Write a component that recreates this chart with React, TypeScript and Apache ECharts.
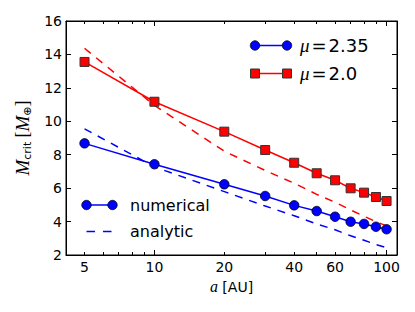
import React, { useEffect, useRef } from 'react';
import * as echarts from 'echarts';

// semi-major axis [AU]
const aValues = [5, 10, 20, 30, 40, 50, 60, 70, 80, 90, 100];
// numerical critical masses [M_earth]
const mu235Numerical = [8.68, 7.43, 6.23, 5.53, 4.97, 4.63, 4.29, 3.99, 3.86, 3.69, 3.54];
const mu20Numerical = [13.55, 11.17, 9.38, 8.28, 7.52, 6.89, 6.47, 5.99, 5.73, 5.47, 5.23];
// analytic estimates [M_earth]
const mu235Analytic = [9.55, 7.27, 5.79, 4.93, 4.35, 3.86, 3.51, 3.15, 2.88, 2.63, 2.44];
const mu20Analytic = [14.37, 10.95, 8.21, 7.06, 6.29, 5.63, 5.16, 4.69, 4.32, 3.99, 3.74];

const xTickLabels = [5, 10, 20, 40, 60, 100];
const xMajorTicks = [10, 100];
const xMinorTicks = [5, 6, 7, 8, 9, 20, 30, 40, 50, 60, 70, 80, 90];
const xMin = 4.16;
const xMax = 110.9;
const yMin = 2;
const yMax = 16;
const yStep = 2;

const BLUE = '#0000ff';
const RED = '#ff0000';
const SANS = 'DejaVu Sans';
const SERIF = 'Liberation Serif';

const lx = (a: number) => Math.log10(a);
const pts = (ys: number[]) => aValues.map((a, i) => [lx(a), ys[i]]);

const baseX = (position: 'bottom' | 'top', ticks: number[], len: number, labels: boolean, line: boolean) => ({
  type: 'value',
  position,
  min: lx(xMin),
  max: lx(xMax),
  axisLine: { show: line, onZero: false, lineStyle: { color: '#000', width: 1 } },
  axisTick: { show: true, inside: true, length: len, customValues: ticks.map(lx), lineStyle: { color: '#000', width: 1 } },
  axisLabel: labels
    ? {
        show: true,
        customValues: xTickLabels.map(lx),
        formatter: (v: number) => String(Math.round(Math.pow(10, v))),
        color: '#000',
        fontSize: 14,
        fontFamily: SANS,
        margin: 5,
      }
    : { show: false },
  splitLine: { show: false },
});

const legendRich = {
  i: { fontFamily: SERIF, fontStyle: 'italic', fontSize: 19, fill: '#000' },
  e: { fontFamily: SANS, fontSize: 18, fill: '#000', padding: [0, 2, 0, 2] },
};

export default function App() {
  const ref = useRef<HTMLDivElement>(null);
  useEffect(() => {
    document.body.style.margin = '0';
    const chart = echarts.init(ref.current!, null, { renderer: 'svg' });
    const xAxes: any[] = [
      {
        ...baseX('bottom', xMinorTicks, 3, true, true),
        name: '{i|a} [AU]',
        nameLocation: 'middle',
        nameGap: 22,
        nameTextStyle: {
          color: '#000',
          fontSize: 14,
          fontFamily: SANS,
          rich: {
            i: { fontFamily: SERIF, fontStyle: 'italic', fontSize: 16, color: '#000' },
          },
        },
      },
      baseX('bottom', xMajorTicks, 5, false, false),
      baseX('top', xMinorTicks, 3, false, true),
      baseX('top', xMajorTicks, 5, false, false),
    ];
    const yCommon = {
      type: 'value',
      min: yMin,
      max: yMax,
      interval: yStep,
      splitLine: { show: false },
      axisLine: { show: true, onZero: false, lineStyle: { color: '#000', width: 1 } },
      axisTick: { show: true, inside: true, length: 5, lineStyle: { color: '#000', width: 1 } },
    };
    const option: any = {
      animation: false,
      grid: {
        left: 66,
        right: 18,
        top: 21,
        bottom: 57,
        show: true,
        borderColor: '#000',
        borderWidth: 1,
        containLabel: false,
        outerBoundsMode: 'none',
      },
      xAxis: xAxes,
      yAxis: [
        {
          ...yCommon,
          position: 'left',
          axisLabel: { color: '#000', fontSize: 14, fontFamily: SANS, margin: 4 },
          name: '{m|M}{s|crit} {b|[}{m|M}{s|⊕}{b|]}',
          nameLocation: 'middle',
          nameRotate: 90,
          nameGap: 30,
          nameTextStyle: {
            color: '#000',
            fontSize: 17,
            fontFamily: SERIF,
            rich: {
              m: { fontFamily: SERIF, fontStyle: 'italic', fontSize: 19, color: '#000', lineHeight: 22 },
              b: { fontFamily: SERIF, fontSize: 18, color: '#000', lineHeight: 22 },
              s: { fontFamily: SANS, fontSize: 11, color: '#000', lineHeight: 11, verticalAlign: 'bottom' },
            },
          },
        },
        { ...yCommon, position: 'right', axisLabel: { show: false } },
      ],
      series: [
        {
          type: 'line',
          data: pts(mu20Analytic),
          symbol: 'none',
          silent: true,
          lineStyle: { color: RED, width: 1.5, type: [8, 7] },
          z: 2,
        },
        {
          type: 'line',
          data: pts(mu235Analytic),
          symbol: 'none',
          silent: true,
          lineStyle: { color: BLUE, width: 1.5, type: [8, 7] },
          z: 2,
        },
        {
          type: 'line',
          data: pts(mu235Numerical),
          symbol: 'circle',
          symbolSize: 9.5,
          silent: true,
          itemStyle: { color: BLUE, borderColor: '#000', borderWidth: 0.8 },
          lineStyle: { color: BLUE, width: 1.5 },
          z: 3,
        },
        {
          type: 'line',
          data: pts(mu20Numerical),
          symbol: 'rect',
          symbolSize: 9,
          silent: true,
          itemStyle: { color: RED, borderColor: '#333', borderWidth: 1 },
          lineStyle: { color: RED, width: 1.5 },
          z: 3,
        },
      ],
      graphic: [
        // upper-right legend
        { type: 'line', shape: { x1: 255, y1: 45.5, x2: 287, y2: 45.5 }, style: { stroke: BLUE, lineWidth: 1.5 } },
        { type: 'circle', shape: { cx: 255, cy: 45.5, r: 4.7 }, style: { fill: BLUE, stroke: '#000', lineWidth: 0.8 } },
        { type: 'circle', shape: { cx: 287, cy: 45.5, r: 4.7 }, style: { fill: BLUE, stroke: '#000', lineWidth: 0.8 } },
        {
          type: 'text',
          x: 300,
          y: 45.5,
          style: {
            text: '{i|μ}{e|=}2.35',
            fontSize: 18,
            fontFamily: SANS,
            fill: '#000',
            verticalAlign: 'middle',
            rich: legendRich,
          },
        },
        { type: 'line', shape: { x1: 255, y1: 73.5, x2: 287, y2: 73.5 }, style: { stroke: RED, lineWidth: 1.5 } },
        { type: 'rect', shape: { x: 250.5, y: 69, width: 9, height: 9 }, style: { fill: RED, stroke: '#333', lineWidth: 1 } },
        { type: 'rect', shape: { x: 282.5, y: 69, width: 9, height: 9 }, style: { fill: RED, stroke: '#333', lineWidth: 1 } },
        {
          type: 'text',
          x: 300,
          y: 73.5,
          style: {
            text: '{i|μ}{e|=}2.0',
            fontSize: 18,
            fontFamily: SANS,
            fill: '#000',
            verticalAlign: 'middle',
            rich: legendRich,
          },
        },
        // lower-left legend
        { type: 'line', shape: { x1: 86.5, y1: 205, x2: 112.5, y2: 205 }, style: { stroke: BLUE, lineWidth: 1.5 } },
        { type: 'circle', shape: { cx: 86.5, cy: 205, r: 4.7 }, style: { fill: BLUE, stroke: '#000', lineWidth: 0.8 } },
        { type: 'circle', shape: { cx: 112.5, cy: 205, r: 4.7 }, style: { fill: BLUE, stroke: '#000', lineWidth: 0.8 } },
        {
          type: 'text',
          x: 130,
          y: 205,
          style: { text: 'numerical', fontSize: 16, fontFamily: SANS, fill: '#000', verticalAlign: 'middle' },
        },
        {
          type: 'line',
          shape: { x1: 86.5, y1: 231.5, x2: 112, y2: 231.5 },
          style: { stroke: BLUE, lineWidth: 1.5, lineDash: [8.5, 8] },
        },
        {
          type: 'text',
          x: 130,
          y: 231,
          style: { text: 'analytic', fontSize: 16, fontFamily: SANS, fill: '#000', verticalAlign: 'middle' },
        },
      ],
    };
    chart.setOption(option);
    return () => chart.dispose();
  }, []);
  return <div ref={ref} style={{ width: 415, height: 312 }} />;
}
